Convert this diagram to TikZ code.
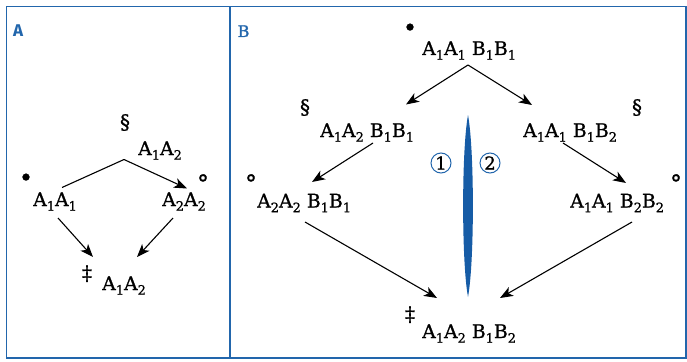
\documentclass[tikz,border=0pt]{standalone}
\usepackage{fontspec}
\setmainfont{DejaVu Serif}[FakeBold=0.9]
\newfontfamily\symfont{DejaVu Serif}[FakeBold=0.9]
\newfontfamily\labsans{Fira Sans}
\newfontfamily\labserif{DejaVu Serif}[FakeBold=1.6]
\usetikzlibrary{arrows.meta}
\definecolor{frameblue}{RGB}{34,102,172}
\definecolor{lensblue}{RGB}{22,92,166}
\newcommand\sbx[1]{\raisebox{-0.25em}{\fontsize{13}{12}\selectfont #1}}
\tikzset{
  txt/.style={inner sep=0pt, anchor=base west, font=\fontsize{18.8}{20}\selectfont},
  sym/.style={inner sep=0pt, anchor=base, font=\symfont\fontsize{20}{20}\selectfont},
  arr/.style={line width=1.1pt, -{Stealth[length=13pt,width=10pt,inset=3.5pt]}},
  ln/.style={line width=1.1pt},
  panel/.style={inner sep=0pt, anchor=base west, text=frameblue},
  num/.style={circle, draw=frameblue, line width=1pt, minimum size=20pt, inner sep=0pt, font=\fontsize{18}{18}\selectfont}
}
\begin{document}
\begin{tikzpicture}[x=1pt,y=-1pt]
\useasboundingbox (0,0) rectangle (687,361);
% frame
\draw[frameblue, line width=1.3pt] (6.5,6.5) rectangle (686,358);
\draw[frameblue, line width=1.3pt] (230,6.5) -- (230,358);
\node[panel, font=\labsans\bfseries\fontsize{17}{17}\selectfont] (lA) at (13,37) {A};
\node[panel, font=\labserif\fontsize{16}{16}\selectfont] (lB) at (237.5,37) {B};

% panel A
\node[txt] (a12t) at (138,155) {A\sbx{1}A\sbx{2}};
\node[txt] (a11) at (33,206) {A\sbx{1}A\sbx{1}};
\node[txt] (a22) at (162,206) {A\sbx{2}A\sbx{2}};
\node[txt] (a12b) at (102,290) {A\sbx{1}A\sbx{2}};
\node[sym] (sA1) at (125,129) {§};
\node[sym, font=\symfont\fontsize{24}{24}\selectfont] (dA) at (26,186) {•};
\node[sym, font=\symfont\fontsize{24}{24}\selectfont] (oA) at (203,192) {°};
\node[sym] (ddA) at (87,280) {‡};
\coordinate (pkA) at (124,159.5);
\coordinate (a11s) at (62,187.5);
\coordinate (a22e) at (187,188.5);
\coordinate (a11b) at (58,218);
\coordinate (a12be) at (93,257);
\coordinate (a22b) at (173,218);
\coordinate (a12bw) at (137,257);
\draw[ln] (a11s) -- (pkA);
\draw[arr] (pkA) -- (a22e);
\draw[arr] (a11b) -- (a12be);
\draw[arr] (a22b) -- (a12bw);

% panel B
\node[txt] (b0) at (422,55) {A\sbx{1}A\sbx{1} B\sbx{1}B\sbx{1}};
\node[txt] (b1) at (320,137) {A\sbx{1}A\sbx{2} B\sbx{1}B\sbx{1}};
\node[txt] (b2) at (523,137) {A\sbx{1}A\sbx{1} B\sbx{1}B\sbx{2}};
\node[txt] (b3) at (257,207.5) {A\sbx{2}A\sbx{2} B\sbx{1}B\sbx{1}};
\node[txt] (b4) at (570,207.5) {A\sbx{1}A\sbx{1} B\sbx{2}B\sbx{2}};
\node[txt] (b5) at (422,338) {A\sbx{1}A\sbx{2} B\sbx{1}B\sbx{2}};
\node[sym, font=\symfont\fontsize{24}{24}\selectfont] (dB) at (410,36) {•};
\node[sym] (sB1) at (305,114) {§};
\node[sym] (sB2) at (637,114) {§};
\node[sym, font=\symfont\fontsize{24}{24}\selectfont] (oB1) at (251,192) {°};
\node[sym, font=\symfont\fontsize{24}{24}\selectfont] (oB2) at (676,192) {°};
\node[sym] (ddB) at (410,321) {‡};
\coordinate (pkB) at (468,65);
\coordinate (b1e) at (406,104.5);
\coordinate (b2e) at (532,105);
\coordinate (b1s) at (373,143);
\coordinate (b3e) at (312,182);
\coordinate (b2s) at (563,143);
\coordinate (b4e) at (626,183);
\coordinate (b3s) at (305,222);
\coordinate (b5w) at (437,298);
\coordinate (b4s) at (632,222);
\coordinate (b5e) at (500,298);
\draw[arr] (pkB) -- (b1e);
\draw[arr] (pkB) -- (b2e);
\draw[arr] (b1s) -- (b3e);
\draw[arr] (b2s) -- (b4e);
\draw[arr] (b3s) -- (b5w);
\draw[arr] (b4s) -- (b5e);

% lens
\fill[lensblue] (468,115) .. controls (474.5,150) and (474.5,262) .. (468,297)
  .. controls (461.5,262) and (461.5,150) .. (468,115);
\node[num] (n1) at (441,163) {1};
\node[num] (n2) at (490,163) {2};
\end{tikzpicture}
\end{document}
